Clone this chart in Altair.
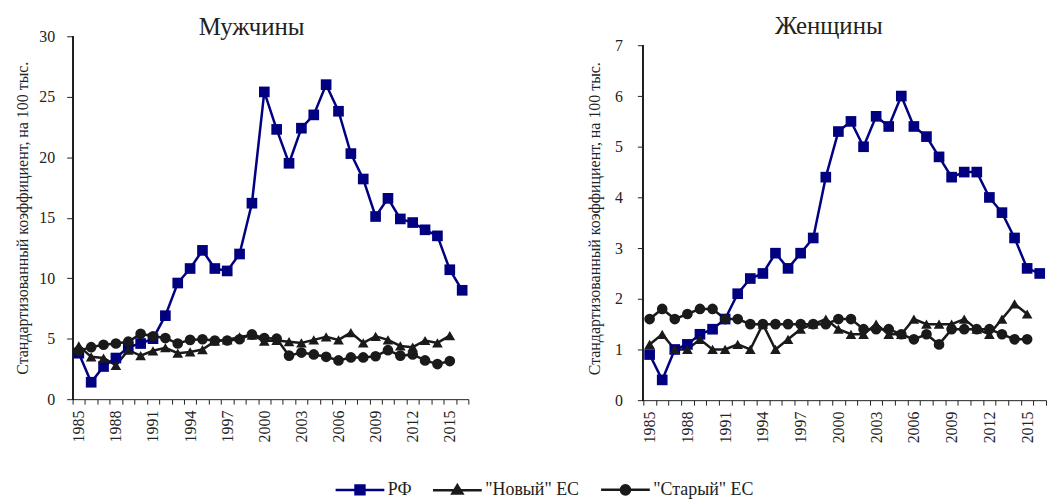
import altair as alt
import pandas as pd

years = list(range(1985, 2017))
series_names = ["РФ", '"Новый" ЕС', '"Старый" ЕС']

m_rf = [3.8, 1.4, 2.7, 3.4, 4.3, 4.6, 5.0, 6.9, 9.6, 10.8, 12.3, 10.8, 10.6, 12.0, 16.2, 25.4,
        22.3, 19.5, 22.4, 23.5, 26.0, 23.8, 20.3, 18.2, 15.1, 16.6, 14.9, 14.6, 14.0, 13.5, 10.7, 9.0]
m_new = [4.4, 3.5, 3.4, 2.8, 4.05, 3.6, 4.0, 4.25, 3.8, 3.9, 4.1, 4.8, 4.9, 5.15, 5.3, 4.8,
         4.85, 4.75, 4.65, 4.9, 5.15, 4.9, 5.5, 4.65, 5.2, 4.9, 4.4, 4.3, 4.85, 4.65, 5.25, None]
m_old = [4.0, 4.3, 4.5, 4.6, 4.75, 5.4, 5.2, 5.05, 4.6, 4.9, 4.95, 4.85, 4.85, 4.95, 5.35, 5.05,
         5.0, 3.6, 3.85, 3.7, 3.5, 3.2, 3.45, 3.45, 3.55, 4.05, 3.6, 3.7, 3.2, 2.9, 3.15, None]

w_rf = [0.9, 0.4, 1.0, 1.1, 1.3, 1.4, 1.6, 2.1, 2.4, 2.5, 2.9, 2.6, 2.9, 3.2, 4.4, 5.3,
        5.5, 5.0, 5.6, 5.4, 6.0, 5.4, 5.2, 4.8, 4.4, 4.5, 4.5, 4.0, 3.7, 3.2, 2.6, 2.5]
w_new = [1.1, 1.3, 1.0, 1.0, 1.2, 1.0, 1.0, 1.1, 1.0, 1.5, 1.0, 1.2, 1.4, 1.5, 1.6, 1.4,
         1.3, 1.3, 1.5, 1.3, 1.3, 1.6, 1.5, 1.5, 1.5, 1.6, 1.4, 1.3, 1.6, 1.9, 1.7, None]
w_old = [1.6, 1.8, 1.6, 1.7, 1.8, 1.8, 1.6, 1.6, 1.5, 1.5, 1.5, 1.5, 1.5, 1.5, 1.5, 1.6,
         1.6, 1.4, 1.4, 1.4, 1.3, 1.2, 1.3, 1.1, 1.4, 1.4, 1.4, 1.4, 1.3, 1.2, 1.2, None]

FONT = "Liberation Serif"
NAVY = "#000080"
BLACK = "#1a1a1a"
TXT = "#222222"
colors = [NAVY, BLACK, BLACK]
shapes = ["square", "triangle-up", "circle"]
legend_paths = [
    "M-3.5,0H3.5M-0.64,-0.64H0.64V0.64H-0.64Z",
    "M-3.5,0H3.5M0,-0.7L0.72,0.5H-0.72Z",
    "M-3.5,0H3.5M-0.66,0A0.66,0.66,0,1,0,0.66,0A0.66,0.66,0,1,0,-0.66,0Z",
]
YTITLE = "Стандартизованный коэффициент, на 100 тыс."


def long_df(rf, new, old):
    rows = []
    for name, vals in zip(series_names, [rf, new, old]):
        for yr, v in zip(years, vals):
            if v is not None:
                rows.append({"year": yr, "series": name, "value": v})
    return pd.DataFrame(rows)


def panel(df, title, ymax, ytop, width, height, label_pad, title_pad,
          t_offset, t_dx, with_legend):
    xenc = alt.X(
        "year:O",
        scale=alt.Scale(type="band", paddingInner=0, paddingOuter=0, domain=years),
        bandPosition=0.5,
        axis=alt.Axis(
            title=None, labelAngle=270, tickBand="extent",
            labelExpr="(datum.value - 1985) % 3 == 0 ? datum.label : ''",
            labelFont=FONT, labelFontSize=16, labelColor=TXT,
            domainColor=TXT, tickColor=TXT, tickSize=5, labelPadding=6,
            labelOverlap=False, grid=False,
        ),
    )
    yenc = alt.Y(
        "value:Q",
        scale=alt.Scale(domain=[0, ytop], nice=False),
        axis=alt.Axis(
            title=YTITLE, values=list(range(0, ymax + 1, 5 if ymax > 10 else 1)),
            labelFont=FONT, labelFontSize=16, labelColor=TXT,
            titleFont=FONT, titleFontSize=16, titleFontWeight="normal", titleColor=TXT,
            domain=False, tickColor=TXT, tickSize=6, labelPadding=label_pad,
            titlePadding=title_pad, grid=False,
        ),
    )
    base = alt.Chart(df)
    layers = [
        base.mark_rule(color=TXT, strokeWidth=1).encode(
            x=alt.value(0), y=alt.datum(0), y2=alt.datum(ymax)
        ),
    ]
    for s, c in zip(series_names, colors):
        layers.append(
            base.transform_filter(alt.datum.series == s)
            .mark_line(strokeWidth=2.5, color=c)
            .encode(x=xenc, y=yenc)
        )
    for s, sh, c in zip(series_names, shapes, colors):
        layers.append(
            base.transform_filter(alt.datum.series == s)
            .mark_point(filled=True, opacity=1, shape=sh, size=115, color=c)
            .encode(x=xenc, y=yenc)
        )
    if with_legend:
        leg = alt.Legend(
            title=None, orient="none", direction="horizontal",
            legendX=280, legendY=447,
            symbolSize=196, symbolStrokeWidth=2.5, symbolOpacity=1,
            labelFont=FONT, labelFontSize=18, labelColor=TXT,
            labelOffset=19, columnPadding=16,
        )
        layers.append(
            base.mark_point(filled=True, opacity=0).encode(
                x=xenc, y=yenc,
                shape=alt.Shape("series:N", scale=alt.Scale(domain=series_names, range=legend_paths), legend=leg),
                fill=alt.Fill("series:N", scale=alt.Scale(domain=series_names, range=colors), legend=leg),
                stroke=alt.Stroke("series:N", scale=alt.Scale(domain=series_names, range=colors), legend=leg),
            )
        )
    return alt.layer(*layers).properties(
        width=width, height=height,
        title=alt.TitleParams(
            text=title, font=FONT, fontSize=25, fontWeight="normal", color=TXT,
            anchor="middle", offset=t_offset, frame="group", dx=t_dx,
        ),
    )


left = panel(long_df(m_rf, m_new, m_old), "Мужчины", 30, 30, 398, 365, 12, 8, -12, -19, True)
right = panel(long_df(w_rf, w_new, w_old), "Женщины", 7, 7.18, 405, 366, 15, 12, -3, -16, False)

chart = (
    alt.hconcat(left, right, spacing=115)
    .properties(padding={"left": 7, "top": 5, "right": 0, "bottom": 0})
    .configure_view(stroke=None)
    .configure_legend(labelFont=FONT, labelFontSize=18, labelColor=TXT)
)

chart.save("out.html", embed_options={"renderer": "svg", "actions": False})
